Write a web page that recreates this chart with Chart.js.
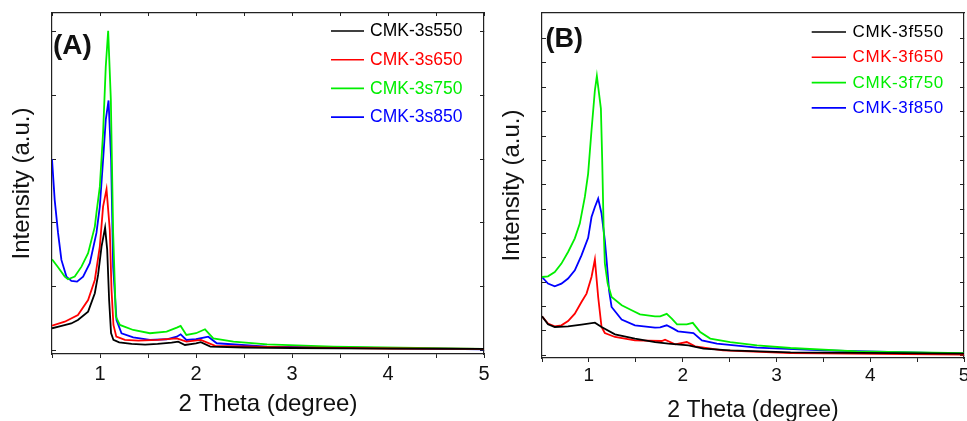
<!DOCTYPE html>
<html>
<head>
<meta charset="utf-8">
<script src="https://cdn.jsdelivr.net/npm/chart.js@4.4.1/dist/chart.umd.min.js"></script>
<style>
  html, body { margin: 0; padding: 0; background: #fff; }
  #wrap { position: relative; width: 967px; height: 421px; }
  canvas { position: absolute; top: 0; }
  #chartA { left: 0; }
  #chartB { left: 490px; }
</style>
</head>
<body>
<div id="wrap">
  <canvas id="chartA" width="490" height="421"></canvas>
  <canvas id="chartB" width="477" height="421"></canvas>
</div>
<script>
// values: 2 Theta (degree) and intensity (a.u.)
// panel (A)
const s550X = [0.5, 0.6, 0.7, 0.77, 0.876, 0.946, 0.98, 1.016, 1.053, 1.075, 1.095, 1.115, 1.14, 1.2, 1.33, 1.47, 1.6, 1.746, 1.815, 1.885, 2.0, 2.05, 2.15, 2.5, 3, 4, 5];
const s550Y = [351, 387, 426, 481, 611, 899, 1186, 1630, 1927, 1578, 794, 277, 168, 130, 105, 94, 105, 125, 141, 89, 113, 132, 63, 50, 42, 31, 27];
const s650X = [0.5, 0.633, 0.77, 0.876, 0.946, 0.998, 1.032, 1.068, 1.102, 1.12, 1.14, 1.17, 1.259, 1.4, 1.6, 1.8, 1.9, 2.05, 2.2, 3, 4, 5];
const s650Y = [392, 454, 559, 794, 1108, 1630, 2256, 2529, 1891, 951, 403, 219, 168, 157, 168, 194, 141, 168, 74, 52, 34, 27];
const s750X = [0.5, 0.563, 0.633, 0.667, 0.737, 0.807, 0.876, 0.946, 0.963, 0.998, 1.032, 1.06, 1.085, 1.113, 1.137, 1.165, 1.207, 1.346, 1.52, 1.694, 1.8, 1.84, 1.9, 2.0, 2.094, 2.18, 2.39, 2.74, 3.43, 5];
const s750Y = [1432, 1307, 1160, 1119, 1160, 1316, 1526, 1943, 2158, 2565, 3411, 4446, 5010, 3928, 1844, 533, 403, 324, 273, 298, 360, 387, 246, 273, 335, 194, 141, 100, 63, 27];
const s850X = [0.5, 0.528, 0.563, 0.598, 0.65, 0.702, 0.761, 0.824, 0.894, 0.963, 0.998, 1.032, 1.06, 1.089, 1.116, 1.137, 1.172, 1.224, 1.346, 1.52, 1.694, 1.8, 1.84, 1.9, 2.0, 2.128, 2.216, 2.74, 5];
const s850Y = [2999, 2362, 1844, 1421, 1160, 1092, 1081, 1160, 1370, 1844, 2256, 2988, 3615, 3918, 2988, 1316, 481, 273, 210, 168, 179, 219, 257, 168, 179, 219, 116, 63, 22];

// panel (B)
const f550X = [0.5, 0.564, 0.636, 0.778, 0.921, 1.064, 1.135, 1.278, 1.491, 1.706, 1.848, 2.062, 2.222, 2.507, 3.15, 5];
const f550Y = [801, 636, 581, 595, 630, 671, 581, 431, 343, 273, 240, 205, 138, 103, 62, 35];
const f650X = [0.5, 0.564, 0.636, 0.707, 0.778, 0.85, 0.921, 0.975, 1.028, 1.064, 1.099, 1.135, 1.17, 1.278, 1.491, 1.777, 1.812, 1.919, 2.044, 2.133, 2.43, 3.15, 5];
const f650Y = [801, 651, 595, 616, 704, 856, 1094, 1267, 1607, 1965, 1197, 581, 458, 376, 308, 294, 322, 226, 273, 185, 103, 47, 14];
const f750X = [0.5, 0.564, 0.636, 0.707, 0.778, 0.85, 0.903, 0.957, 0.992, 1.028, 1.064, 1.085, 1.128, 1.142, 1.157, 1.17, 1.2, 1.242, 1.35, 1.456, 1.545, 1.705, 1.76, 1.83, 1.884, 1.94, 2.044, 2.108, 2.187, 2.294, 2.507, 2.793, 3.15, 3.86, 5];
const f750Y = [1607, 1622, 1710, 1883, 2121, 2402, 2704, 3250, 3730, 4619, 5440, 5734, 5065, 4003, 2634, 1889, 1478, 1197, 1027, 924, 842, 801, 801, 852, 753, 636, 636, 667, 478, 343, 273, 205, 150, 82, 47];
const f850X = [0.5, 0.564, 0.636, 0.707, 0.778, 0.85, 0.921, 0.992, 1.028, 1.064, 1.099, 1.135, 1.17, 1.189, 1.215, 1.242, 1.349, 1.491, 1.705, 1.76, 1.83, 1.9, 1.95, 2.115, 2.205, 2.365, 2.793, 3.506, 5];
const f850Y = [1607, 1472, 1417, 1472, 1575, 1745, 2053, 2412, 2839, 3045, 3217, 2909, 2361, 1950, 1334, 992, 733, 616, 569, 575, 616, 548, 493, 458, 308, 240, 158, 103, 35];

const xTickLabels = ['1', '2', '3', '4', '5'];
const aTicks = [0, 1000, 2000, 3000, 4000, 5000];
const bTicks = [0, 500, 1000, 1500, 2000, 2500, 3000, 3500, 4000, 4500, 5000, 5500, 6000, 6500];

const FONT = '"Liberation Sans", Arial, sans-serif';
const INK = '#111';
const AXIS = '#222';

// draws the panel tag and the in-plot legend
const panelDecor = {
  id: 'panelDecor',
  afterDraw(chart, args, o) {
    const ctx = chart.ctx;
    ctx.save();
    ctx.fillStyle = INK;
    ctx.font = `bold ${o.tagSize}px ${FONT}`;
    ctx.textBaseline = 'alphabetic';
    ctx.fillText(o.tag, o.tagX, o.tagY);
    ctx.font = `${o.size}px ${FONT}`;
    ctx.letterSpacing = o.spacing;
    ctx.textBaseline = 'middle';
    chart.data.datasets.forEach((ds, i) => {
      const y = o.y0 + i * o.gap;
      ctx.strokeStyle = ds.borderColor;
      ctx.lineWidth = 1.6;
      ctx.beginPath();
      ctx.moveTo(o.x0, y);
      ctx.lineTo(o.x1, y);
      ctx.stroke();
      ctx.fillStyle = ds.borderColor;
      ctx.fillText(ds.label, o.tx, y + 0.5);
    });
    ctx.restore();
  }
};

function makePanel(id, p) {
  const fixTicks = list => s => { s.ticks = list.map(v => ({ value: v })); };
  return new Chart(document.getElementById(id), {
    type: 'line',
    data: {
      datasets: p.series.map(s => ({
        label: s.label,
        data: s.x.map((x, i) => ({ x: x, y: s.y[i] })),
        borderColor: s.color,
        borderWidth: 1.8,
        pointRadius: 0,
        tension: 0,
        fill: false
      }))
    },
    options: {
      responsive: false,
      animation: false,
      events: [],
      layout: { padding: { left: 0, top: 13, right: p.padRight, bottom: 0 } },
      plugins: {
        legend: { display: false },
        tooltip: { enabled: false },
        panelDecor: p.decor
      },
      scales: {
        x: {
          type: 'linear', position: 'bottom', min: 0.5, max: 5,
          ticks: {
            stepSize: 0.5, autoSkip: false, maxRotation: 0, padding: p.tickPad,
            color: INK, font: { family: FONT, size: p.tickSize, lineHeight: 1 },
            callback: v => Number.isInteger(v) ? xTickLabels[v - 1] : ''
          },
          grid: { drawOnChartArea: false, tickLength: 4, tickColor: AXIS, tickWidth: 1 },
          border: { color: AXIS, width: 1.2 },
          title: {
            display: true, text: '2 Theta (degree)', color: INK,
            font: { family: FONT, size: p.xTitleSize, lineHeight: 1 },
            padding: { top: 0, bottom: p.xTitlePad }
          },
          afterFit: s => { s.height = p.xAxisH; s.paddingLeft = 0; s.paddingRight = 0; }
        },
        xTop: {
          type: 'linear', position: 'top', min: 0.5, max: 5,
          ticks: { display: false, stepSize: 0.5 },
          grid: { drawOnChartArea: false, drawTicks: p.topTicks, tickLength: -3, tickColor: AXIS, tickWidth: 1 },
          border: { color: AXIS, width: 1.2 },
          afterFit: s => { s.height = 0; s.paddingLeft = 0; s.paddingRight = 0; }
        },
        y: {
          type: 'linear', position: 'left', min: p.yMin, max: p.yMax,
          ticks: { display: false },
          afterBuildTicks: fixTicks(p.yTicks),
          grid: { drawOnChartArea: false, tickLength: -4, tickColor: AXIS, tickWidth: 1 },
          border: { color: AXIS, width: 1.2 },
          title: {
            display: true, text: 'Intensity (a.u.)', color: INK,
            font: { family: FONT, size: 24, lineHeight: 1 },
            padding: { top: 10, bottom: 0 }
          },
          afterFit: s => { s.width = 52; }
        },
        yRight: {
          type: 'linear', position: 'right', min: p.yMin, max: p.yMax,
          ticks: { display: false },
          afterBuildTicks: fixTicks(p.yTicks),
          grid: { drawOnChartArea: false, tickLength: -4, tickColor: AXIS, tickWidth: 1 },
          border: { color: AXIS, width: 1.2 },
          afterFit: s => { s.width = 0; }
        }
      }
    },
    plugins: [panelDecor]
  });
}

makePanel('chartA', {
  series: [
    { label: 'CMK-3s550', color: '#000000', x: s550X, y: s550Y },
    { label: 'CMK-3s650', color: '#ff0000', x: s650X, y: s650Y },
    { label: 'CMK-3s750', color: '#00ee00', x: s750X, y: s750Y },
    { label: 'CMK-3s850', color: '#0000ff', x: s850X, y: s850Y }
  ],
  yMin: -52, yMax: 5288, yTicks: aTicks,
  padRight: 6, xAxisH: 67, tickPad: 6.5, tickSize: 20,
  xTitleSize: 24, xTitlePad: 5, topTicks: true,
  decor: { tag: '(A)', tagSize: 28, tagX: 53, tagY: 53.5,
           size: 17.5, spacing: '0px', x0: 331, x1: 364, tx: 370, y0: 31, gap: 28.7 }
});

makePanel('chartB', {
  series: [
    { label: 'CMK-3f550', color: '#000000', x: f550X, y: f550Y },
    { label: 'CMK-3f650', color: '#ff0000', x: f650X, y: f650Y },
    { label: 'CMK-3f750', color: '#00ee00', x: f750X, y: f750Y },
    { label: 'CMK-3f850', color: '#0000ff', x: f850X, y: f850Y }
  ],
  yMin: -55, yMax: 7026, yTicks: bTicks,
  padRight: 3, xAxisH: 63, tickPad: 4.5, tickSize: 19,
  xTitleSize: 23, xTitlePad: -1, topTicks: false,
  decor: { tag: '(B)', tagSize: 27, tagX: 55.5, tagY: 46.5,
           size: 17, spacing: '0.6px', x0: 321.7, x1: 356, tx: 362.5, y0: 32, gap: 25.3 }
});
</script>
</body>
</html>
